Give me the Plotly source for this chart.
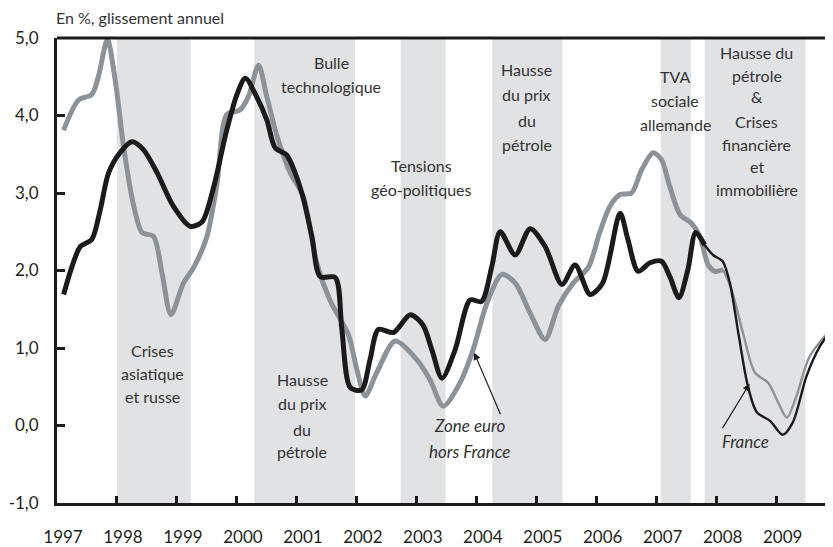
import plotly.graph_objects as go

# dates in fractional years, values in % (annual change)
france_dates = [1997.11, 1997.25, 1997.39, 1997.58, 1997.72, 1997.86, 1998.05, 1998.25, 1998.44,
                1998.67, 1998.94, 1999.22, 1999.42, 1999.6, 1999.83, 2000.0, 2000.14, 2000.33,
                2000.5, 2000.64, 2000.83, 2000.97, 2001.1, 2001.25, 2001.39, 2001.64, 2001.75,
                2001.89, 2002.08, 2002.22, 2002.36, 2002.61, 2002.89, 2003.1, 2003.25, 2003.42,
                2003.64, 2003.89, 2004.08, 2004.25, 2004.39, 2004.64, 2004.89, 2005.14, 2005.42,
                2005.64, 2005.89, 2006.1, 2006.39, 2006.52, 2006.69, 2006.89, 2007.08, 2007.22,
                2007.37, 2007.52, 2007.65, 2007.8, 2007.94, 2008.1, 2008.22, 2008.36, 2008.52,
                2008.67, 2008.89, 2009.1, 2009.27, 2009.5, 2009.72, 2009.92]
france_values = [1.69, 2.05, 2.31, 2.40, 2.78, 3.26, 3.52, 3.66, 3.56,
                 3.26, 2.83, 2.57, 2.63, 3.04, 3.81, 4.27, 4.48, 4.24,
                 3.94, 3.58, 3.49, 3.26, 2.95, 2.44, 1.92, 1.91, 1.24,
                 0.49, 0.46, 0.85, 1.24, 1.20, 1.43, 1.30, 0.98, 0.61,
                 0.98, 1.62, 1.60, 2.05, 2.50, 2.20, 2.54, 2.31, 1.82,
                 2.07, 1.69, 1.84, 2.74, 2.40, 1.99, 2.10, 2.12, 1.92,
                 1.65, 2.01, 2.49, 2.33, 2.20, 2.12, 1.84, 1.20, 0.51,
                 0.17, 0.06, -0.12, 0.04, 0.64, 1.02, 1.24]

zone_dates = [1997.11, 1997.36, 1997.58, 1997.69, 1997.84, 1997.97, 1998.11, 1998.28, 1998.42,
              1998.61, 1998.75, 1998.9, 1999.11, 1999.28, 1999.5, 1999.67, 1999.83, 2000.05,
              2000.19, 2000.36, 2000.5, 2000.67, 2000.89, 2001.11, 2001.33, 2001.55, 2001.86,
              2002.0, 2002.14, 2002.33, 2002.64, 2003.0, 2003.22, 2003.44, 2003.72, 2003.94,
              2004.17, 2004.42, 2004.64, 2004.89, 2005.14, 2005.36, 2005.61, 2005.86, 2006.05,
              2006.22, 2006.39, 2006.58, 2006.75, 2006.94, 2007.08, 2007.22, 2007.39, 2007.58,
              2007.72, 2007.86, 2007.97, 2008.11, 2008.25, 2008.44, 2008.64, 2008.86, 2009.03,
              2009.17, 2009.33, 2009.55, 2009.92]
zone_values = [3.81, 4.20, 4.27, 4.50, 4.98, 4.46, 3.60, 2.83, 2.49,
               2.44, 1.97, 1.43, 1.84, 2.04, 2.44, 3.13, 4.01, 4.07,
               4.24, 4.65, 4.24, 3.73, 3.26, 2.95, 2.10, 1.62, 1.17,
               0.72, 0.38, 0.68, 1.09, 0.85, 0.59, 0.25, 0.55, 0.98,
               1.58, 1.95, 1.84, 1.45, 1.11, 1.54, 1.84, 2.04, 2.49,
               2.83, 2.98, 3.00, 3.30, 3.52, 3.43, 3.08, 2.72, 2.61,
               2.44, 2.07, 1.99, 2.01, 1.75, 1.19, 0.68, 0.55, 0.29,
               0.10, 0.38, 0.89, 1.26]

# shaded episodes (start, end)
band_starts = [1998.0, 2000.29, 2002.73, 2004.26, 2007.07, 2007.8]
band_ends = [1999.23, 2001.97, 2003.48, 2005.43, 2007.57, 2009.48]

year_ticks = list(range(1997, 2010))
year_labels = [str(y) for y in year_ticks]
value_ticks = [-1, 0, 1, 2, 3, 4, 5]
value_labels = ["-1,0", "0,0", "1,0", "2,0", "3,0", "4,0", "5,0"]

BLACK = "#1c1a1b"
GREY = "#8b9298"
BAND = "#e1e2e4"
TEXT = "#333333"
FONT = "Lato"


def split(dates, values, cut):
    # thick part up to cut, thin part after (sharing the joining point)
    i = max(k for k, d in enumerate(dates) if d <= cut)
    return (dates[:i + 1], values[:i + 1]), (dates[i:], values[i:])


fig = go.Figure()

for dates, values, color, cut in [(zone_dates, zone_values, GREY, 2008.11),
                                  (france_dates, france_values, BLACK, 2007.8)]:
    thick, thin = split(dates, values, cut)
    fig.add_trace(go.Scatter(x=thick[0], y=thick[1], mode="lines",
                             line=dict(color=color, width=5, shape="spline", smoothing=0.8)))
    fig.add_trace(go.Scatter(x=thin[0], y=thin[1], mode="lines",
                             line=dict(color=color, width=2.4, shape="spline", smoothing=0.8)))

for x0, x1 in zip(band_starts, band_ends):
    fig.add_shape(type="rect", x0=x0, x1=x1, y0=-1, y1=5, xref="x", yref="y",
                  fillcolor=BAND, line_width=0, layer="below")

# top frame line
fig.add_shape(type="line", xref="paper", yref="paper", x0=0, x1=1, y0=1, y1=1,
              line=dict(color=BLACK, width=3))

# episode labels: (lines, x, y of each line)
blocks = [
    (["Crises", "asiatique", "et russe"], 1998.59, [0.97, 0.67, 0.37]),
    (["Bulle", "technologique"], 2001.57, [4.68, 4.37]),
    (["Hausse", "du prix", "du", "pétrole"], 2001.09, [0.59, 0.28, -0.05, -0.34]),
    (["Tensions", "géo-politiques"], 2003.07, [3.35, 3.04]),
    (["Hausse", "du prix", "du", "pétrole"], 2004.83, [4.60, 4.27, 3.93, 3.63]),
    (["TVA", "sociale", "allemande"], 2007.31, [4.50, 4.20, 3.88]),
    (["Hausse du", "pétrole", "&", "Crises", "financière", "et", "immobilière"], 2008.67,
     [4.81, 4.51, 4.24, 3.92, 3.62, 3.34, 3.05]),
]
for lines, x, ys in blocks:
    for text, y in zip(lines, ys):
        fig.add_annotation(x=x, y=y, text=text, showarrow=False,
                           font=dict(family=FONT, size=16, color=TEXT))

# series labels with arrows
fig.add_annotation(x=2003.88, y=0.0, text="<i>Zone euro</i>", showarrow=False,
                   font=dict(family=FONT, size=17, color=TEXT))
fig.add_annotation(x=2003.88, y=-0.34, text="<i>hors France</i>", showarrow=False,
                   font=dict(family=FONT, size=17, color=TEXT))
fig.add_annotation(x=2008.48, y=-0.21, text="<i>France</i>", showarrow=False,
                   font=dict(family=FONT, size=17, color=TEXT))
fig.add_annotation(x=2003.955, y=0.94, ax=27, ay=63, text="", showarrow=True,
                   arrowhead=2, arrowsize=1.2, arrowwidth=1.2, arrowcolor=BLACK)
fig.add_annotation(x=2008.55, y=0.54, ax=-28, ay=46, text="", showarrow=True,
                   arrowhead=2, arrowsize=1.2, arrowwidth=1.2, arrowcolor=BLACK)

fig.add_annotation(x=-0.004, y=1.045, xref="paper", yref="paper", xanchor="left", yanchor="middle",
                   text="En %, glissement annuel", showarrow=False,
                   font=dict(family=FONT, size=16, color=TEXT))

# the page body has an 8px margin, so the figure is 8px smaller than the window
fig.update_layout(
    width=825, height=539,
    margin=dict(l=49, r=0, t=30, b=44),
    plot_bgcolor="white", paper_bgcolor="white",
    showlegend=False,
    font=dict(family=FONT, color=TEXT),
)
fig.update_xaxes(range=[1997, 2009.94], tickvals=year_ticks, ticktext=year_labels,
                 ticks="inside", ticklen=7, tickwidth=2.5, tickcolor=BLACK,
                 showline=True, linewidth=3, linecolor=BLACK, showgrid=False, zeroline=False,
                 ticklabelshift=6, ticklabelstandoff=17, automargin=False,
                 tickfont=dict(family=FONT, size=17, color="#231f20"))
fig.update_yaxes(range=[-1, 5], tickvals=value_ticks, ticktext=value_labels,
                 ticks="inside", ticklen=8, tickwidth=2.5, tickcolor=BLACK,
                 showline=True, linewidth=3, linecolor=BLACK, showgrid=False, zeroline=False,
                 ticklabelstandoff=12, automargin=False,
                 tickfont=dict(family=FONT, size=17, color="#231f20"))

fig.write_html("out.html")
